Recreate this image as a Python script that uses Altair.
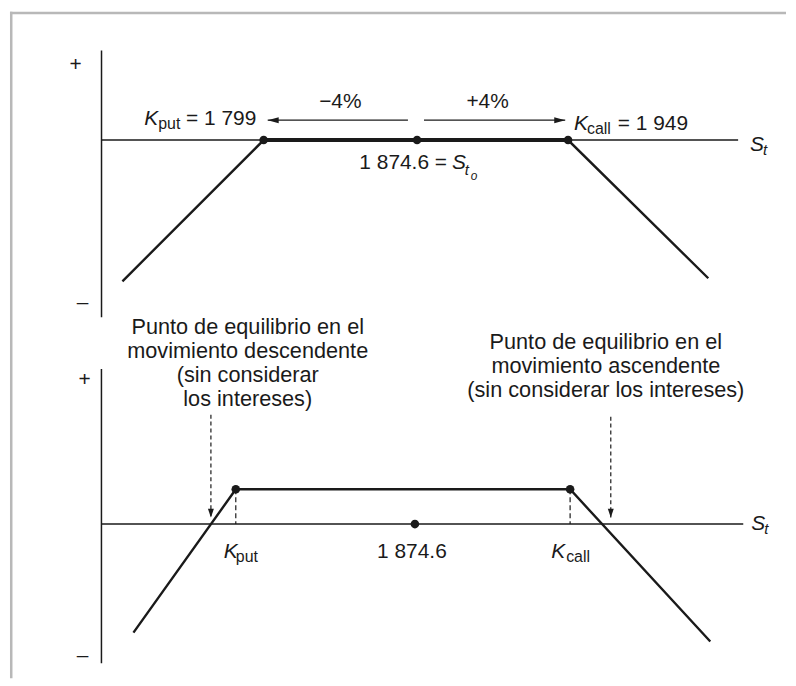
import altair as alt
import pandas as pd

# ---------------- data ----------------
K_PUT = 1799
K_CALL = 1949
S_0 = 1874.6

# upper panel (strikes around the spot, +/-4%)
TOP_S_AXIS = [1719.1, 2032.8]          # extent of the S_t axis
TOP_P_AXIS = [44.1, -87.3]             # extent of the payoff axis
TOP_PAYOFF_S = [1729.4, K_PUT, K_CALL, 2018.1]
TOP_PAYOFF_P = [-69.6, 0.0, 0.0, -68.1]
TOP_DOTS_S = [K_PUT, S_0, K_CALL]
TOP_ARROW_P = 9.8
TOP_ARROW_DOWN = [1870.1, 1801.0]      # from, tip
TOP_ARROW_UP = [1878.0, 1947.6]        # from, tip
TOP_PCT = ["\u22124%", "+4%"]
LBL_PUT_VALUE = "= 1 799"
LBL_CALL_VALUE = "= 1 949"
LBL_SPOT = "1 874.6 ="

# lower panel (short strangle with premium)
BOT_S_AXIS = [1742.3, 2032.0]
BOT_P_AXIS = [69.6, -62.5]
BOT_PAYOFF_S = [1755.8, K_PUT, K_CALL, 2016.2]
BOT_PAYOFF_P = [-48.7, 15.6, 15.6, -52.7]
BREAKEVEN_S = [1788.5, 1968.5]
BREAKEVEN_FROM = [49.1, 48.2]
BREAKEVEN_TIP = 3.0
LBL_SPOT_BOT = "1 874.6"
NOTE_DOWN = ["Punto de equilibrio en el", "movimiento descendente",
             "(sin considerar", "los intereses)"]
NOTE_UP = ["Punto de equilibrio en el", "movimiento ascendente",
           "(sin considerar los intereses)"]

# ---------------- styling ----------------
FONT = "Liberation Sans"
INK = "#1a1a1a"
FRAME = "#b8b8b8"
W = 780
H_TOP = 320
H_BOT = 350

top_x = alt.Scale(domain=[1674.0, 2056.4], nice=False, zero=False)
top_y = alt.Scale(domain=[-93.63, 63.24], nice=False, zero=False)
bot_x = alt.Scale(domain=[1703.7, S_0, 2052.5], range=[0, 407, W], nice=False, zero=False)
bot_y = alt.Scale(domain=[-69.2, 87.05], nice=False, zero=False)


def xy(xs, ys):
    return dict(x=alt.X("S:Q", scale=xs, axis=None), y=alt.Y("P:Q", scale=ys, axis=None))


def seg(xs, ys, s, p, s2, p2, width, dash=None):
    kw = dict(color=INK, strokeWidth=width)
    if dash:
        kw["strokeDash"] = dash
    df = pd.DataFrame({"S": [s], "P": [p], "S2": [s2], "P2": [p2]})
    return alt.Chart(df).mark_rule(**kw).encode(x2="S2:Q", y2="P2:Q", **xy(xs, ys))


def line(xs, ys, S, P, width):
    df = pd.DataFrame({"S": S, "P": P, "i": list(range(len(S)))})
    return alt.Chart(df).mark_line(color=INK, strokeWidth=width).encode(
        order="i:Q", **xy(xs, ys))


def dots(xs, ys, S, P):
    df = pd.DataFrame({"S": S, "P": P})
    return alt.Chart(df).mark_circle(color=INK, size=75, opacity=1).encode(**xy(xs, ys))


def head(xs, ys, s, p, path, size):
    df = pd.DataFrame({"S": [s], "P": [p]})
    return alt.Chart(df).mark_point(shape=path, filled=True, size=size, color=INK,
                                    strokeWidth=0, opacity=1).encode(**xy(xs, ys))


def txt(xs, ys, s, p, text, dx, dy, size=21, italic=False, align="left",
        baseline="alphabetic", line_height=None):
    kw = dict(text=text, font=FONT, fontSize=size, color=INK, align=align,
              baseline=baseline, dx=dx, dy=dy,
              fontStyle="italic" if italic else "normal")
    if line_height:
        kw["lineHeight"] = line_height
    df = pd.DataFrame({"S": [s], "P": [p]})
    return alt.Chart(df).mark_text(**kw).encode(**xy(xs, ys))


LEFT_HEAD = "M0,0 L2,-0.55 L2,0.55 Z"
RIGHT_HEAD = "M0,0 L-2,-0.55 L-2,0.55 Z"
DOWN_HEAD = "M0,0 L-0.75,-2.2 L0.75,-2.2 Z"

frame_df = pd.DataFrame({"a": [0]})

# ---------------- upper panel ----------------
tx, ty = top_x, top_y
top_layers = [
    alt.Chart(frame_df).mark_rule(color=FRAME, strokeWidth=2.5).encode(x=alt.value(1.25)),
    alt.Chart(frame_df).mark_rule(color=FRAME, strokeWidth=2.5).encode(y=alt.value(1.25)),
    seg(tx, ty, TOP_S_AXIS[0], 0, TOP_S_AXIS[1], 0, 1.5),
    seg(tx, ty, TOP_S_AXIS[0], TOP_P_AXIS[0], TOP_S_AXIS[0], TOP_P_AXIS[1], 1.5),
    line(tx, ty, TOP_PAYOFF_S, TOP_PAYOFF_P, 2.4),
    line(tx, ty, TOP_PAYOFF_S[1:3], TOP_PAYOFF_P[1:3], 4),
    seg(tx, ty, TOP_ARROW_DOWN[0], TOP_ARROW_P, TOP_ARROW_DOWN[1], TOP_ARROW_P, 1.3),
    seg(tx, ty, TOP_ARROW_UP[0], TOP_ARROW_P, TOP_ARROW_UP[1], TOP_ARROW_P, 1.3),
    head(tx, ty, TOP_ARROW_DOWN[1], TOP_ARROW_P, LEFT_HEAD, 121),
    head(tx, ty, TOP_ARROW_UP[1], TOP_ARROW_P, RIGHT_HEAD, 121),
    dots(tx, ty, TOP_DOTS_S, [0, 0, 0]),
    txt(tx, ty, TOP_S_AXIS[0], TOP_P_AXIS[0], "+", -26, 15, align="center", baseline="middle"),
    txt(tx, ty, TOP_S_AXIS[0], TOP_P_AXIS[1], "\u2013", -19, -14, align="center", baseline="middle"),
    txt(tx, ty, TOP_S_AXIS[1], 0, "S", 12, 11, italic=True),
    txt(tx, ty, TOP_S_AXIS[1], 0, "t", 25, 15, size=15, italic=True),
    txt(tx, ty, (K_PUT + S_0) / 2, TOP_ARROW_P, TOP_PCT[0], 0, -12, align="center"),
    txt(tx, ty, (S_0 + K_CALL) / 2, TOP_ARROW_P, TOP_PCT[1], -5, -12, align="center"),
    txt(tx, ty, K_PUT, TOP_ARROW_P, "K", -120, 5, italic=True),
    txt(tx, ty, K_PUT, TOP_ARROW_P, "put", -106, 9, size=16),
    txt(tx, ty, K_PUT, TOP_ARROW_P, LBL_PUT_VALUE, -78, 5),
    txt(tx, ty, K_CALL, TOP_ARROW_P, "K", 6, 10, italic=True),
    txt(tx, ty, K_CALL, TOP_ARROW_P, "call", 19, 14, size=16),
    txt(tx, ty, K_CALL, TOP_ARROW_P, LBL_CALL_VALUE, 50, 10),
    txt(tx, ty, S_0, 0, LBL_SPOT, -58, 29),
    txt(tx, ty, S_0, 0, "S", 35, 29, italic=True),
    txt(tx, ty, S_0, 0, "t", 48, 35, size=15, italic=True),
    txt(tx, ty, S_0, 0, "o", 54, 40, size=12, italic=True),
]
top = alt.layer(*top_layers).properties(width=W, height=H_TOP)

# ---------------- lower panel ----------------
bx, by = bot_x, bot_y
bot_layers = [
    alt.Chart(frame_df).mark_rule(color=FRAME, strokeWidth=2.5).encode(x=alt.value(1.25)),
    seg(bx, by, BOT_S_AXIS[0], 0, BOT_S_AXIS[1], 0, 1.5),
    seg(bx, by, BOT_S_AXIS[0], BOT_P_AXIS[0], BOT_S_AXIS[0], BOT_P_AXIS[1], 1.5),
    line(bx, by, BOT_PAYOFF_S, BOT_PAYOFF_P, 2.4),
    seg(bx, by, K_PUT, BOT_PAYOFF_P[1], K_PUT, 0, 1.2, [5, 3]),
    seg(bx, by, K_CALL, BOT_PAYOFF_P[2], K_CALL, 0, 1.2, [5, 3]),
    seg(bx, by, BREAKEVEN_S[0], BREAKEVEN_FROM[0], BREAKEVEN_S[0], BREAKEVEN_TIP, 1.2, [4, 3]),
    seg(bx, by, BREAKEVEN_S[1], BREAKEVEN_FROM[1], BREAKEVEN_S[1], BREAKEVEN_TIP, 1.2, [4, 3]),
    head(bx, by, BREAKEVEN_S[0], BREAKEVEN_TIP, DOWN_HEAD, 64),
    head(bx, by, BREAKEVEN_S[1], BREAKEVEN_TIP, DOWN_HEAD, 64),
    dots(bx, by, [K_PUT, S_0, K_CALL], [BOT_PAYOFF_P[1], 0, BOT_PAYOFF_P[2]]),
    txt(bx, by, BOT_S_AXIS[0], BOT_P_AXIS[0], "+", -17, 11, align="center", baseline="middle"),
    txt(bx, by, BOT_S_AXIS[0], BOT_P_AXIS[1], "\u2013", -19, -7, align="center", baseline="middle"),
    txt(bx, by, BOT_S_AXIS[1], 0, "S", 8, 6, italic=True),
    txt(bx, by, BOT_S_AXIS[1], 0, "t", 21, 10, size=15, italic=True),
    txt(bx, by, K_PUT, 0, "K", -12, 34, italic=True),
    txt(bx, by, K_PUT, 0, "put", 0, 38, size=16),
    txt(bx, by, S_0, 0, LBL_SPOT_BOT, -3, 34, align="center"),
    txt(bx, by, K_CALL, 0, "K", -19, 34, italic=True),
    txt(bx, by, K_CALL, 0, "call", -4, 38, size=16),
    txt(bx, by, BREAKEVEN_S[0], BREAKEVEN_FROM[0], NOTE_DOWN, 37, -81,
        size=21.8, align="center", line_height=24),
    txt(bx, by, BREAKEVEN_S[1], BREAKEVEN_FROM[1], NOTE_UP, -5, -68,
        size=21.8, align="center", line_height=24),
]
bottom = alt.layer(*bot_layers).properties(width=W, height=H_BOT)

chart = (
    alt.vconcat(top, bottom, spacing=0, bounds="flush")
    .properties(padding=0, background="white")
    .configure_view(stroke=None)
)

chart.save("out.html", embed_options={"renderer": "svg", "actions": False})
